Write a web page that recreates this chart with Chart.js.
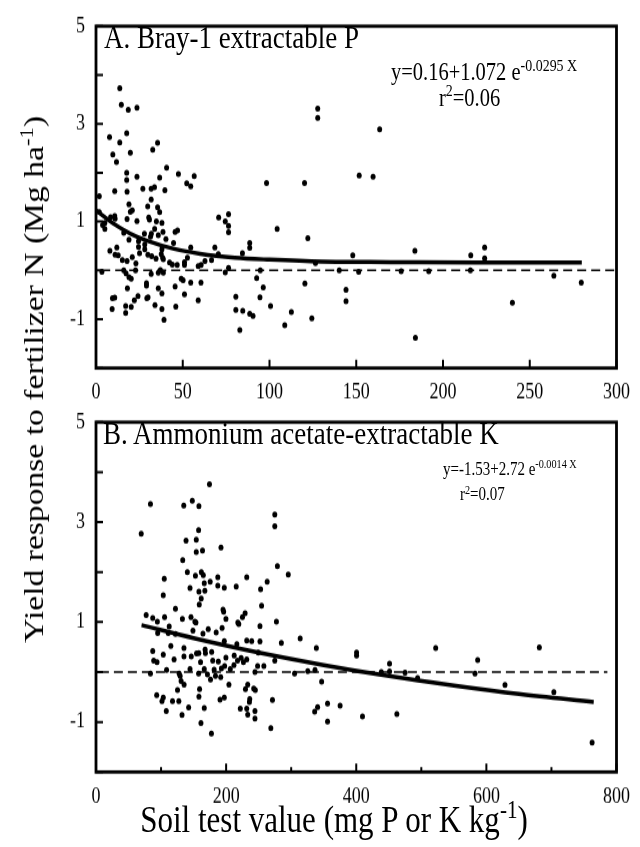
<!DOCTYPE html>
<html>
<head>
<meta charset="utf-8">
<script src="https://cdn.jsdelivr.net/npm/chart.js@4.4.1/dist/chart.umd.min.js"></script>
<style>
  body { margin: 0; background: #fff; overflow: hidden; }
  #fig { position: absolute; left: 0; top: 0; width: 640px; height: 706px;
         transform: scaleY(1.2); transform-origin: 0 0;
         font-family: "Liberation Serif", "Times New Roman", serif; color: #000; }
  canvas { position: absolute; left: 0; }
  .t { position: absolute; white-space: nowrap; line-height: 1; }
  sup { font-size: 0.68em; vertical-align: 0.55em; line-height: 0; }
</style>
</head>
<body>
<div id="fig">
  <canvas id="chartA" width="640" height="345" style="top:0"></canvas>
  <canvas id="chartB" width="640" height="376" style="top:330px"></canvas>

  <div class="t" style="left:104px; top:18px; font-size:27px;">A. Bray-1 extractable P</div>
  <div class="t" style="left:391px; top:50px; font-size:20.5px;">y=0.16+1.072 e<sup>-0.0295 X</sup></div>
  <div class="t" style="left:439px; top:71px; font-size:20.5px;">r<sup>2</sup>=0.06</div>

  <div class="t" style="left:103px; top:348px; font-size:27px;">B. Ammonium acetate-extractable K</div>
  <div class="t" style="left:443px; top:384px; font-size:15px;">y=-1.53+2.72 e<sup>-0.0014 X</sup></div>
  <div class="t" style="left:460px; top:405px; font-size:15px;">r<sup>2</sup>=0.07</div>

  <div class="t" style="left:34px; top:316px; font-size:28px; transform: translate(-50%,-50%) rotate(-90deg);">Yield response to fertilizer N (Mg ha<sup>-1</sup>)</div>
  <div class="t" style="left:334px; top:683px; font-size:31px; transform: translate(-50%,-50%);">Soil test value (mg P or K kg<sup>-1</sup>)</div>
</div>

<script>
// panel A: Bray-1 P (mg/kg) vs yield response (Mg/ha)
const pAx = [13.7,14.6,18.6,23.6,7.8,17.7,13.7,35.5,32.7,9.7,19.8,11.8,40.7,17.7,47.5,56.6,23.6,17.7,36.7,52.3,
  54.6,10.8,17.9,27.0,31.8,33.7,39.7,1.9,31.8,19.0,20.9,19.8,29.8,35.5,36.7,23.6,17.9,30.4,30.8,34.8,
  38.0,8.4,10.8,11.0,5.1,3.8,5.1,1.9,33.8,38.6,45.6,47.0,16.0,27.9,31.9,35.9,40.3,19.0,24.5,31.4,
  44.7,54.6,24.5,12.0,8.0,11.0,12.8,15.2,17.9,20.9,23.0,25.1,28.1,29.9,32.1,34.6,38.0,38.4,38.8,37.6,
  42.4,44.0,46.8,51.0,52.7,51.0,58.9,60.6,62.8,66.6,68.5,70.7,74.5,76.4,76.4,76.4,70.5,76.4,74.5,88.6,
  88.6,84.4,104.4,98.3,120.2,122.1,127.8,127.8,151.7,148.0,126.5,140.2,151.4,94.7,92.6,96.4,94.5,100.6,80.6,80.6,
  84.6,88.6,90.5,82.9,108.8,112.6,124.4,120.4,144.1,144.1,3.4,16.0,17.3,19.0,20.3,22.8,31.8,35.9,37.1,38.8,
  29.1,29.1,18.1,35.9,38.0,45.6,49.1,50.2,54.6,60.5,51.0,58.9,46.0,38.0,34.0,39.2,29.3,30.0,24.2,22.1,
  20.3,17.1,17.1,9.5,10.8,9.3,163.5,159.7,183.8,216.0,224.0,224.0,175.9,191.8,215.8,263.9,279.7,240.0,184.1,28.1];
const pAy = [3.73,3.39,3.29,3.33,2.73,2.81,2.62,2.61,2.47,2.37,2.41,2.22,2.10,2.00,1.97,1.93,1.92,1.85,1.90,1.78,
  1.72,1.62,1.61,1.67,1.67,1.70,1.64,1.52,1.45,1.35,1.23,1.20,1.31,1.29,1.19,1.01,1.05,1.08,1.04,1.00,
  0.97,1.09,1.11,1.06,0.97,0.93,0.85,1.19,0.85,0.79,0.79,0.82,0.77,0.75,0.75,0.72,0.64,0.63,0.60,0.69,
  0.56,0.47,0.48,0.47,0.40,0.32,0.31,0.21,0.19,0.27,0.14,0.35,0.43,0.32,0.29,0.24,0.43,0.26,0.23,0.33,
  0.16,0.12,0.11,0.17,0.26,0.11,0.09,0.11,0.19,0.21,0.47,1.08,1.00,1.15,0.91,0.78,0.33,0.05,-0.04,0.56,
  0.46,0.35,0.85,1.79,1.79,0.66,3.31,3.12,1.94,0.31,0.15,0.00,-0.03,0.00,-0.16,-0.35,-0.55,-0.73,-0.54,-0.81,
  -0.83,-0.89,-0.93,-1.22,-1.12,-0.85,-0.98,-0.27,-0.40,-0.63,-0.03,0.00,-0.06,-0.14,-0.17,0.00,-0.07,-0.05,0.01,-0.05,
  -0.26,-0.31,-0.37,-0.37,-0.47,-0.33,-0.17,-0.20,-0.25,-0.25,-0.49,-0.61,-0.74,-0.79,-0.71,-1.01,-0.57,-0.55,-0.53,-0.61,
  -0.75,-0.73,-0.87,-0.57,-0.56,-0.79,2.89,1.92,0.40,0.31,0.47,0.25,-0.02,-0.02,0.00,-0.11,-0.25,-0.66,-1.38,0.53];
// fitted curve A
const fitAx = [0, 10, 20, 30, 45, 60, 80, 100, 130, 170, 220, 280];
const fitAy = [1.23, 0.96, 0.75, 0.60, 0.44, 0.34, 0.26, 0.22, 0.18, 0.17, 0.16, 0.16];
const zeroAx = [3, 300];

// panel B: NH4OAc K (mg/kg) vs yield response
const pBx = [69.5,83.7,134.9,148.0,158.2,174.4,157.7,138.4,154.1,154.1,163.7,133.3,192.1,274.8,274.8,278.8,295.5,140.4,152.8,161.9,
  164.9,166.4,175.5,187.2,187.2,197.2,144.5,158.2,167.3,161.7,158.7,104.9,103.4,122.1,215.5,231.7,253.0,263.1,254.5,195.2,
  196.2,199.7,77.1,87.2,94.3,105.4,112.5,94.8,111.0,122.1,132.8,146.0,152.0,153.6,149.0,164.4,172.5,184.7,193.8,218.0,
  219.5,225.1,229.2,277.3,252.0,216.5,231.7,239.3,252.0,284.9,313.8,338.7,87.2,88.7,93.8,103.4,115.0,120.0,135.2,135.2,
  146.4,154.5,158.0,167.7,168.2,160.7,177.8,179.4,188.0,197.2,199.7,212.4,217.5,223.1,226.6,231.7,248.4,258.0,249.4,274.8,
  144.5,166.4,181.6,192.7,197.7,206.4,212.0,108.5,83.7,127.8,157.7,171.3,176.0,183.6,191.7,244.3,305.2,325.5,336.6,346.8,
  129.3,130.8,135.4,125.3,142.4,159.2,158.2,204.3,229.7,233.2,242.4,244.9,236.3,235.8,190.6,197.2,271.2,93.3,103.4,101.4,
  108.0,117.6,127.3,132.2,166.4,161.3,177.4,221.8,231.7,233.2,244.3,244.3,268.7,336.1,340.6,355.9,355.9,375.2,409.6,400.5,
  400.5,522.1,681.4,586.6,451.2,451.2,475.0,494.3,582.5,628.6,703.7,462.4,762.5,438.5];
const pBy = [2.77,3.36,3.33,3.43,3.32,3.76,2.84,2.63,2.65,2.40,2.43,2.24,2.49,3.15,2.92,2.12,1.95,2.00,1.93,2.00,
  1.94,1.78,1.81,1.90,1.73,1.69,1.68,1.61,1.63,1.47,1.35,1.87,1.54,1.27,1.71,1.90,1.66,1.81,1.33,1.25,
  1.21,1.06,1.14,1.08,1.01,1.10,0.91,0.78,0.78,0.76,1.06,1.10,1.01,0.99,0.83,0.77,0.86,0.79,0.88,0.99,
  0.96,1.10,1.18,1.01,0.92,0.56,0.63,0.62,0.61,0.58,0.67,0.48,0.42,0.23,0.20,0.35,0.52,0.25,0.48,0.31,
  0.31,0.37,0.38,0.45,0.38,0.20,0.40,0.23,0.21,0.62,0.29,0.33,0.23,0.28,0.20,0.25,0.12,0.12,0.39,0.23,
  0.06,0.06,0.05,0.07,0.12,0.06,0.14,0.04,-0.03,-0.03,-0.03,-0.05,-0.15,-0.08,-0.10,0.00,-0.03,0.02,0.04,-0.19,
  -0.08,-0.18,-0.25,-0.36,-0.71,-0.34,-0.49,-0.25,-0.34,-0.25,-0.33,-0.36,-0.54,-0.60,-0.55,-0.51,-0.56,-0.46,-0.51,-0.58,
  -0.78,-0.58,-0.58,-0.86,-0.72,-1.02,-1.23,-0.73,-0.73,-0.85,-0.78,-0.93,-1.12,-0.79,-0.70,-0.63,-0.99,-0.67,-0.89,0.39,
  0.33,0.48,0.49,0.24,0.17,0.01,-0.01,-0.12,-0.03,-0.26,-0.40,-0.84,-1.41,0.00];
const fitBx = [70, 150, 250, 350, 450, 550, 650, 765];
const fitBy = [0.94, 0.68, 0.39, 0.14, -0.08, -0.27, -0.44, -0.60];
const zeroBx = [6, 786];

const yTicks = [-2, -1, 0, 1, 2, 3, 4, 5];

Chart.defaults.font.family = '"Liberation Serif", "Times New Roman", serif';
Chart.defaults.color = '#000';

function pts(xs, ys) {
  return xs.map((x, i) => ({ x: x, y: ys[i] }));
}

// box around the plot plus inward tick marks
const frame = {
  id: 'frame',
  afterDatasetsDraw(chart, args, opts) {
    const { ctx, chartArea: a, scales } = chart;
    ctx.save();
    ctx.strokeStyle = '#000';
    ctx.lineWidth = 2.8;
    ctx.strokeRect(a.left, a.top, a.right - a.left, a.bottom - a.top);
    ctx.lineWidth = 2;
    ctx.beginPath();
    scales.y.ticks.forEach(t => {
      const py = scales.y.getPixelForValue(t.value);
      ctx.moveTo(a.left, py);
      ctx.lineTo(a.left + 7, py);
    });
    scales.x.ticks.forEach(t => {
      const px = scales.x.getPixelForValue(t.value);
      const len = t.value % opts.labelStep === 0 ? 7 : 4;
      ctx.moveTo(px, a.bottom);
      ctx.lineTo(px, a.bottom - len);
    });
    ctx.stroke();
    ctx.restore();
  }
};

function drawPanel(id, xs, ys, fx, fy, zx, xmax, xstep, labelStep, padTop, chartBottom) {
  const canvas = document.getElementById(id);
  new Chart(canvas.getContext('2d'), {
    type: 'scatter',
    data: {
      datasets: [
        {
          data: zx.map(x => ({ x: x, y: 0 })),
          showLine: true,
          borderColor: '#000',
          borderWidth: 1.5,
          borderDash: [9, 5],
          pointRadius: 0
        },
        {
          data: pts(xs, ys),
          backgroundColor: '#000',
          borderWidth: 0,
          pointRadius: 2.5
        },
        {
          data: pts(fx, fy),
          showLine: true,
          borderColor: '#000',
          borderWidth: 3.5,
          tension: 0.4,
          cubicInterpolationMode: 'monotone',
          pointRadius: 0
        }
      ]
    },
    options: {
      responsive: false,
      animation: false,
      layout: { padding: { top: padTop, right: 18, left: 0, bottom: 0 } },
      plugins: { legend: { display: false }, tooltip: { enabled: false }, frame: { labelStep: labelStep } },
      scales: {
        x: {
          type: 'linear',
          min: 0,
          max: xmax,
          grid: { display: false, drawTicks: false },
          border: { display: false },
          ticks: {
            stepSize: xstep,
            autoSkip: false,
            maxRotation: 0,
            padding: 10,
            font: { size: 18 },
            callback: v => (v % labelStep === 0 ? v : '')
          },
          afterFit: s => { s.height = canvas.height - chartBottom; }
        },
        y: {
          min: -2,
          max: 5,
          grid: { display: false, drawTicks: false },
          border: { display: false },
          afterBuildTicks: s => { s.ticks = yTicks.map(v => ({ value: v })); },
          ticks: {
            padding: 11,
            font: { size: 18 },
            callback: v => (Math.abs(v) % 2 === 1 ? v : '')
          },
          afterFit: s => { s.width = 96; }
        }
      }
    },
    plugins: [frame]
  });
}

drawPanel('chartA', pAx, pAy, fitAx, fitAy, zeroAx, 300, 50, 50, 15, 306.7);
drawPanel('chartB', pBx, pBy, fitBx, fitBy, zeroBx, 800, 100, 200, 14.2, 313.3);
</script>
</body>
</html>
